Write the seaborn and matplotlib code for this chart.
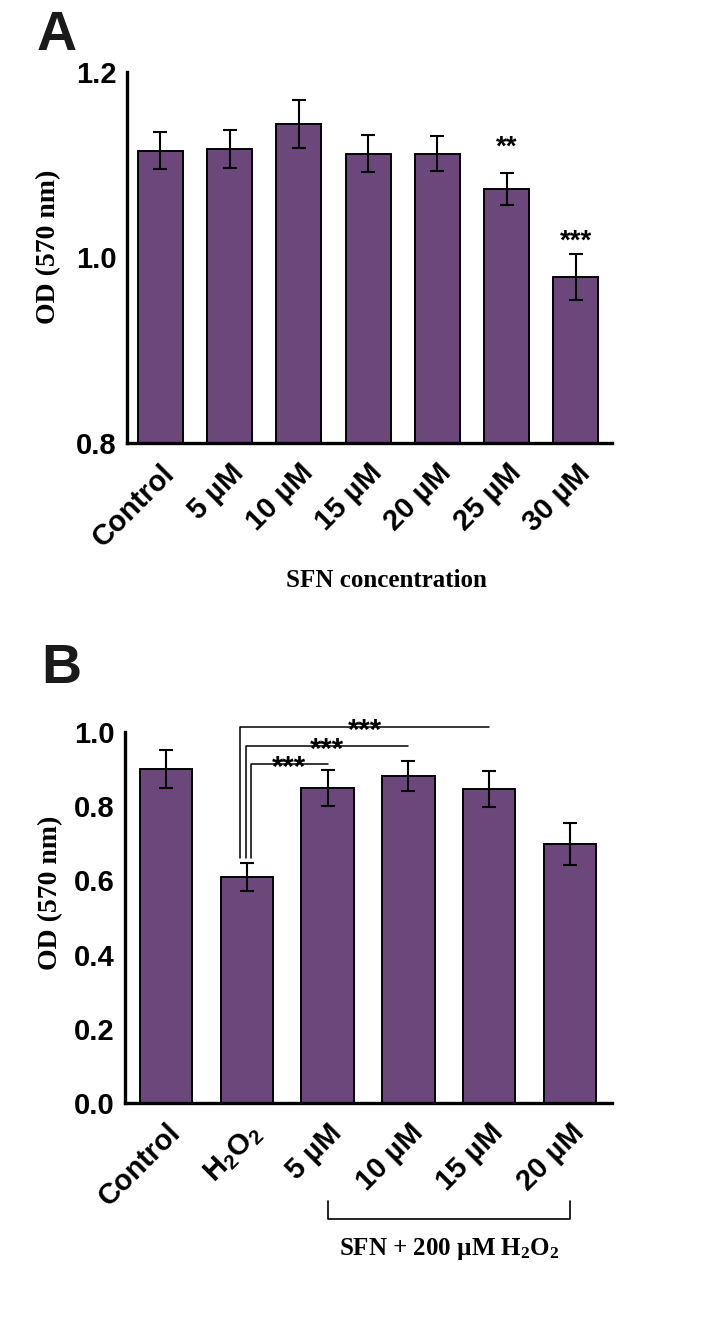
""" OD at 570 nm after SFN treatment, alone (A) and with H2O2 (B). """

# External imports
import numpy as np
import pandas as pd
import seaborn as sns
import matplotlib.pyplot as plt

# Panel A: SFN alone
conc_a = ["Control", "5 µM", "10 µM", "15 µM", "20 µM", "25 µM", "30 µM"]
od_a = [1.115, 1.117, 1.144, 1.112, 1.112, 1.074, 0.979]
sem_a = [0.020, 0.021, 0.026, 0.020, 0.019, 0.017, 0.025]
sig_a = ["", "", "", "", "", "**", "***"]

# Panel B: SFN + 200 uM H2O2
groups_b = ["Control", "H$_2$O$_2$", "5 µM", "10 µM", "15 µM", "20 µM"]
od_b = [0.901, 0.609, 0.849, 0.882, 0.846, 0.699]
sem_b = [0.051, 0.038, 0.048, 0.040, 0.049, 0.056]
# comparisons against the H2O2 group
comp_b = [(1, 4, "***"), (1, 3, "***"), (1, 2, "***")]

PURPLE = "#6C477C"
SERIF = ["Liberation Serif", "DejaVu Serif"]


def bar_panel(ax, labels, values, errors):
    """ Bars with SEM error bars, GraphPad-like styling. """
    df = pd.DataFrame({"group": labels, "od": values})
    sns.barplot(data=df, x="group", y="od", ax=ax, color=PURPLE, saturation=1,
                width=0.65, edgecolor="black", linewidth=1.4, errorbar=None)
    ax.errorbar(np.arange(len(values)), values, yerr=errors, fmt="none",
                ecolor="black", elinewidth=1.5, capsize=4.7, capthick=1.5)
    sns.despine(ax=ax)
    for side in ["left", "bottom"]:
        ax.spines[side].set_linewidth(2.4)
        ax.spines[side].set_color("black")
    ax.tick_params(width=2.4, length=5.5, labelsize=21, pad=2, color="black")
    ax.tick_params(axis="x", pad=6)
    ax.set_xlabel("")
    ax.set_ylabel("OD (570 nm)", family=SERIF, fontsize=20, fontweight="bold")
    plt.setp(ax.get_xticklabels(), rotation=45, ha="right", va="top",
             rotation_mode="anchor")


def main() -> None:
    """ Main function. """
    sns.set_style("white")
    plt.rcParams["font.family"] = ["Liberation Sans", "DejaVu Sans"]
    plt.rcParams["font.weight"] = "bold"
    plt.rcParams["mathtext.default"] = "regular"
    for key in ["text.color", "axes.labelcolor", "xtick.color", "ytick.color"]:
        plt.rcParams[key] = "black"

    fig = plt.figure(figsize=(7.2, 13.19), dpi=100)
    W, H = 720, 1319
    ax_a = fig.add_axes([127 / W, 1 - 443 / H, 485 / W, 371 / H])
    ax_b = fig.add_axes([125 / W, 1 - 1102.7 / H, 487 / W, 370.4 / H])

    # ---- Panel A
    bar_panel(ax_a, conc_a, od_a, sem_a)
    ax_a.set_ylim(0.8, 1.2)
    ax_a.set_yticks([0.8, 1.0, 1.2])
    ax_a.set_xlim(-0.48, len(conc_a) - 0.48)
    ax_a.yaxis.set_label_coords(-0.136, 0.528)
    ax_a.set_xlabel("SFN concentration", family=SERIF, fontsize=18,
                    fontweight="bold")
    ax_a.xaxis.label.set_va("baseline")
    ax_a.xaxis.set_label_coords(0.534, -0.387)
    for i, s in enumerate(sig_a):
        if s:
            y = {"**": 1.111, "***": 1.010}[s]
            ax_a.text(i, y, s, ha="center", va="baseline", fontsize=20)

    # ---- Panel B
    bar_panel(ax_b, groups_b, od_b, sem_b)
    ax_b.set_ylim(0, 1.0)
    ax_b.set_yticks(np.arange(0, 1.01, 0.2))
    ax_b.set_xlim(-0.51, len(groups_b) - 0.48)
    ax_b.yaxis.set_label_coords(-0.127, 0.5675)

    line_y = [1.015, 0.964, 0.9155]
    start_x = [0.92, 0.985, 1.05]
    for (a, b, s), ly, sx in zip(comp_b, line_y, start_x):
        ax_b.plot([sx, sx, b], [0.66, ly, ly], color="black", lw=1.1,
                  clip_on=False)
        ax_b.text((sx + b) / 2, ly - 0.034, s, ha="center", va="baseline",
                  fontsize=21)

    # bracket under the SFN + H2O2 groups
    ax_b.plot([2, 2, 5, 5], [-0.265, -0.315, -0.315, -0.265], color="black",
              lw=1.2, clip_on=False)
    ax_b.text(3.5, -0.411, "SFN + 200 µM H$_2$O$_2$", ha="center",
              va="baseline", family=SERIF, fontsize=18, fontweight="bold")

    # panel letters
    fig.text(37 / W, 1 - 50 / H, "A", fontsize=40, fontweight="bold",
             color="#1a1a1a", va="baseline")
    fig.text(41 / W, 1 - 683 / H, "B", fontsize=40, fontweight="bold",
             color="#1a1a1a", va="baseline")

    fig.savefig("out.png", dpi=100)


if __name__ == "__main__":
    main()
